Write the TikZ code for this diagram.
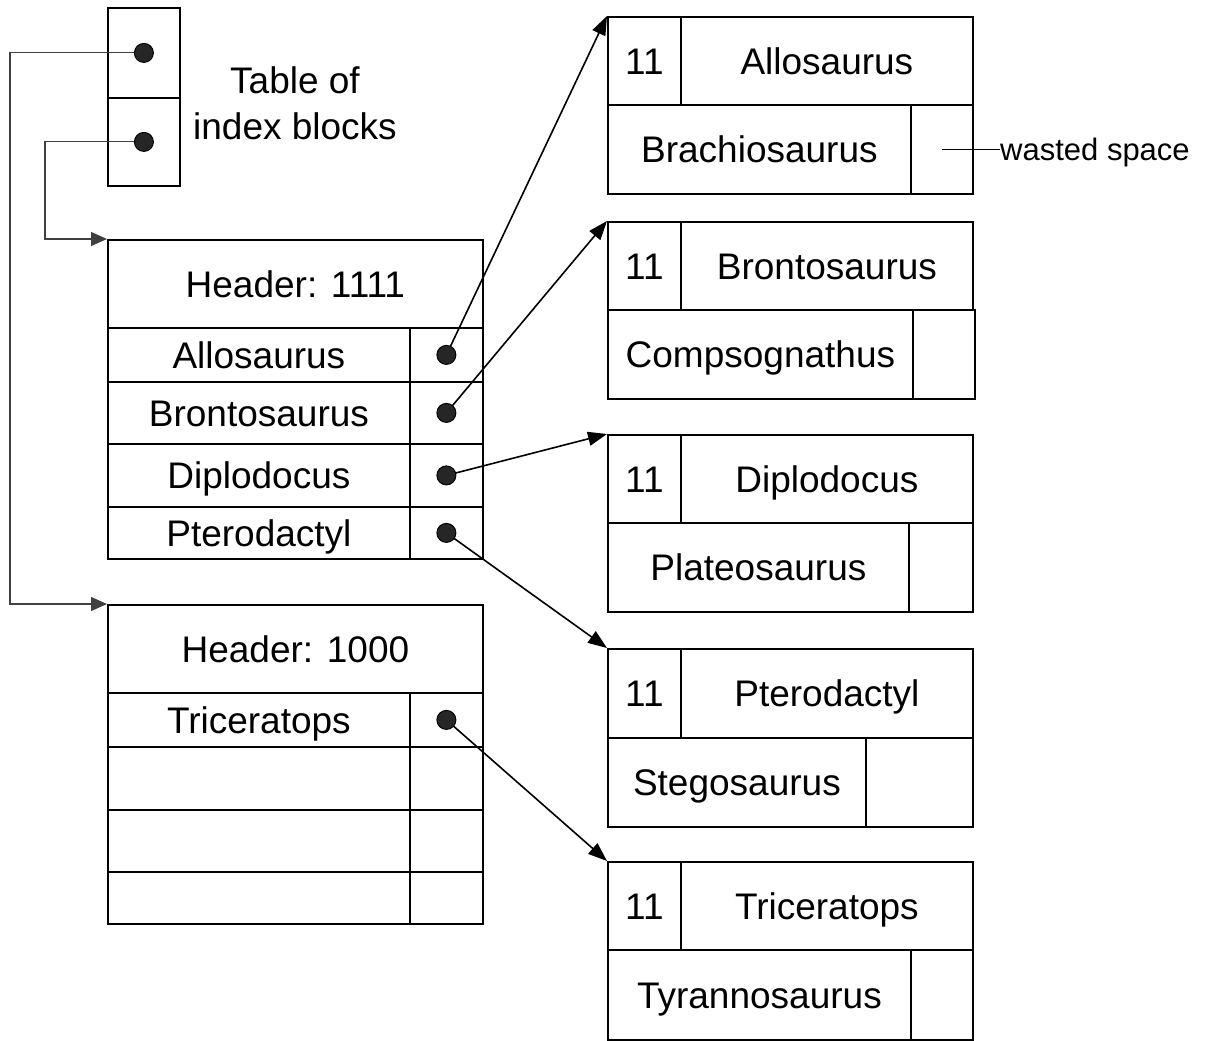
\documentclass[tikz,border=0pt]{standalone}
\usepackage{fontspec}
\setmainfont{Liberation Sans}
\usetikzlibrary{arrows.meta}

\begin{document}
\begin{tikzpicture}[x=1pt,y=-1pt,
    cell/.style={draw,line width=1.8pt,anchor=north west,inner sep=0pt,text height=26.5pt,text depth=0pt,font=\fontsize{37}{44}\selectfont},
    ptr/.style={line width=1.6pt,-{Triangle[length=19pt,width=14pt]}},
    link/.style={line width=1.1pt,black!75,-{Triangle[length=16pt,width=14pt]}},
    dot/.style={fill=black!85,draw=black,line width=1pt}]
      \useasboundingbox (0,0) rectangle (1210,1041);
      % table of index blocks
      \node[cell,minimum width=72,minimum height=90] (tab1) at (107,7) {};
      \node[cell,minimum width=72,minimum height=88] (tab2) at (107,97) {};
      \node[font=\fontsize{37}{46}\selectfont,align=center] (tablabel) at (295,103) {Table of\\index blocks};
      \coordinate (c1) at (10,0);
      \coordinate (c2) at (45,0);
      % index block 1111
      \node[cell,minimum width=375,minimum height=88] (hdrA) at (107,239) {Header: 1111};
      \node[cell,minimum width=302,minimum height=54] (keyA1) at (107,327) {Allosaurus};
      \node[cell,minimum width=73,minimum height=54] (ptrA1) at (409,327) {};
      \node[cell,minimum width=302,minimum height=62] (keyA2) at (107,381) {Brontosaurus};
      \node[cell,minimum width=73,minimum height=62] (ptrA2) at (409,381) {};
      \node[cell,minimum width=302,minimum height=63] (keyA3) at (107,443) {Diplodocus};
      \node[cell,minimum width=73,minimum height=63] (ptrA3) at (409,443) {};
      \node[cell,minimum width=302,minimum height=52] (keyA4) at (107,506) {Pterodactyl};
      \node[cell,minimum width=73,minimum height=52] (ptrA4) at (409,506) {};
      % index block 1000
      \node[cell,minimum width=375,minimum height=88] (hdrB) at (107,604) {Header: 1000};
      \node[cell,minimum width=302,minimum height=54] (keyB1) at (107,692) {Triceratops};
      \node[cell,minimum width=73,minimum height=54] (ptrB1) at (409,692) {};
      \node[cell,minimum width=302,minimum height=63] (keyB2) at (107,746) {};
      \node[cell,minimum width=73,minimum height=63] (ptrB2) at (409,746) {};
      \node[cell,minimum width=302,minimum height=62] (keyB3) at (107,809) {};
      \node[cell,minimum width=73,minimum height=62] (ptrB3) at (409,809) {};
      \node[cell,minimum width=302,minimum height=52] (keyB4) at (107,871) {};
      \node[cell,minimum width=73,minimum height=52] (ptrB4) at (409,871) {};
      % data blocks
      \node[cell,minimum width=73,minimum height=88] (numR1) at (607,16) {11};
      \node[cell,minimum width=292,minimum height=88] (topR1) at (680,16) {Allosaurus};
      \node[cell,minimum width=303,minimum height=89] (botR1) at (607,104) {Brachiosaurus};
      \node[cell,minimum width=62,minimum height=89] (gapR1) at (910,104) {};
      \node[cell,minimum width=73,minimum height=88] (numR2) at (607,221) {11};
      \node[cell,minimum width=292,minimum height=88] (topR2) at (680,221) {Brontosaurus};
      \node[cell,minimum width=305,minimum height=89] (botR2) at (607,309) {Compsognathus};
      \node[cell,minimum width=62,minimum height=89] (gapR2) at (912,309) {};
      \node[cell,minimum width=73,minimum height=88] (numR3) at (607,434) {11};
      \node[cell,minimum width=292,minimum height=88] (topR3) at (680,434) {Diplodocus};
      \node[cell,minimum width=301,minimum height=89] (botR3) at (607,522) {Plateosaurus};
      \node[cell,minimum width=64,minimum height=89] (gapR3) at (908,522) {};
      \node[cell,minimum width=73,minimum height=89] (numR4) at (607,648) {11};
      \node[cell,minimum width=292,minimum height=89] (topR4) at (680,648) {Pterodactyl};
      \node[cell,minimum width=258,minimum height=89] (botR4) at (607,737) {Stegosaurus};
      \node[cell,minimum width=107,minimum height=89] (gapR4) at (865,737) {};
      \node[cell,minimum width=73,minimum height=88] (numR5) at (607,861) {11};
      \node[cell,minimum width=292,minimum height=88] (topR5) at (680,861) {Triceratops};
      \node[cell,minimum width=303,minimum height=90] (botR5) at (607,949) {Tyrannosaurus};
      \node[cell,minimum width=62,minimum height=90] (gapR5) at (910,949) {};
      \node[anchor=base west,inner sep=0pt,font=\fontsize{31}{36}\selectfont] (waste) at (1000,160) {wasted space};
      \draw[line width=1.3pt] (gapR1.center) -- (gapR1.center -| waste.west);
      % pointers
      \draw[link] (tab1.center) -- (tab1.center -| c1) |- (hdrB.north west);
      \draw[link] (tab2.center) -- (tab2.center -| c2) |- (hdrA.north west);
      \draw[ptr] (ptrA1.center) -- (numR1.north west);
      \draw[ptr] (ptrA2.center) -- (numR2.north west);
      \draw[ptr] (ptrA3.center) -- (numR3.north west);
      \draw[ptr] (ptrA4.center) -- (numR4.north west);
      \draw[ptr] (ptrB1.center) -- (numR5.north west);
      \filldraw[dot] (tab1.center) circle (9.5pt);
      \filldraw[dot] (tab2.center) circle (9.5pt);
      \filldraw[dot] (ptrA1.center) circle (9.5pt);
      \filldraw[dot] (ptrA2.center) circle (9.5pt);
      \filldraw[dot] (ptrA3.center) circle (9.5pt);
      \filldraw[dot] (ptrA4.center) circle (9.5pt);
      \filldraw[dot] (ptrB1.center) circle (9.5pt);
\end{tikzpicture}
\end{document}
